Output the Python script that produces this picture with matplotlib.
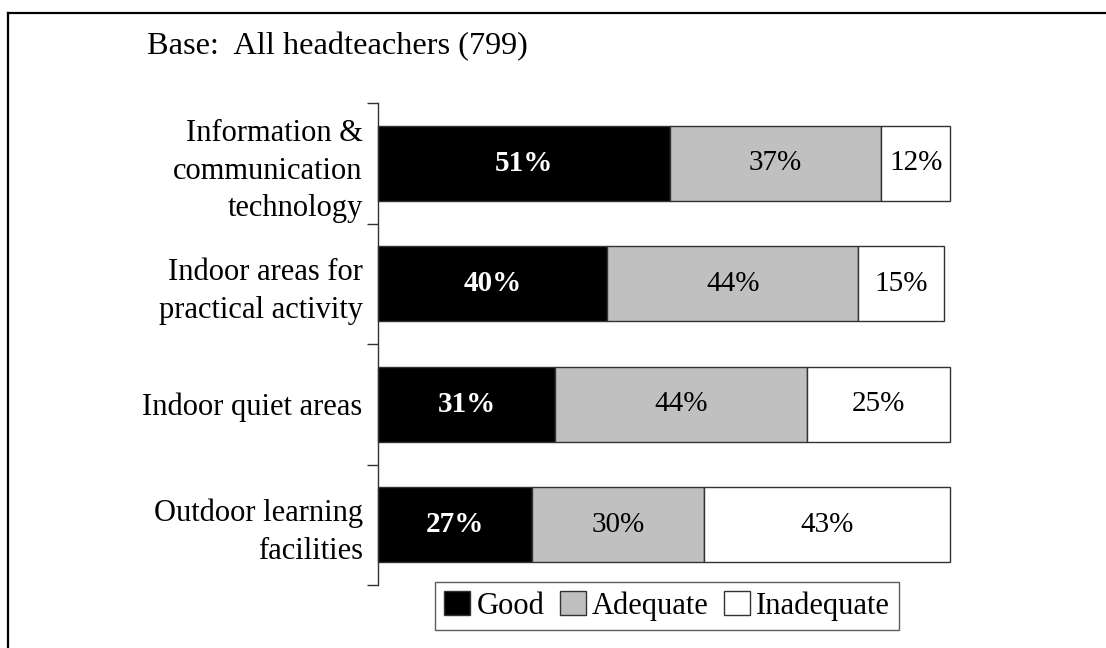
import matplotlib
matplotlib.use("Agg")
import matplotlib.pyplot as plt
from matplotlib.patches import Patch
from matplotlib.lines import Line2D

categories = ["Information &\ncommunication\ntechnology",
              "Indoor areas for\npractical activity",
              "Indoor quiet areas",
              "Outdoor learning\nfacilities"]
good = [51, 40, 31, 27]
adequate = [37, 44, 44, 30]
inadequate = [12, 15, 25, 43]
series_names = ["Good", "Adequate", "Inadequate"]
title_text = "Base:  All headteachers (799)"

plt.rcParams['font.family'] = ['Liberation Serif', 'DejaVu Serif']

fig = plt.figure(figsize=(11.06, 6.48), dpi=100)
ax = fig.add_axes([378/1106, 1-585/648, (950-378)/1106, (585-103)/648])

colors = ["#000000", "#c0c0c0", "#ffffff"]
ypos = list(range(len(categories)))
h = 0.625
left = [0]*len(categories)
for vals, col, name in zip([good, adequate, inadequate], colors, series_names):
    bars = ax.barh(ypos, vals, left=left, height=h, color=col, edgecolor="#333333", linewidth=1.0)
    for b in bars:
        b.set_clip_on(False)
    for y, v, l in zip(ypos, vals, left):
        if name == "Good":
            ax.text(l + v/2, y, f"{v}%", ha="center", va="center", color="white",
                    fontsize=21, fontweight="bold")
        else:
            ax.text(l + v/2, y, f"{v}%", ha="center", va="center", color="black",
                    fontsize=21)
    left = [a + b for a, b in zip(left, vals)]

ax.set_xlim(0, 100)
ax.set_ylim(len(categories)-0.5, -0.5)
ax.set_xticks([])
for s in ["top", "right", "bottom"]:
    ax.spines[s].set_visible(False)
ax.spines["left"].set_linewidth(1.0)
ax.spines["left"].set_color("#333333")
ax.set_yticks([i - 0.5 for i in range(len(categories)+1)])
ax.set_yticklabels([])
ax.tick_params(axis="y", which="major", length=8, width=1.0, color="#333333", direction="out")
ax.set_yticks(ypos, minor=True)
ax.set_yticklabels(categories, minor=True, fontsize=22, ha="right", multialignment="right",
                   linespacing=1.4)
ax.tick_params(axis="y", which="minor", length=0, pad=11)

fig.text(147/1106, 1-47/648, title_text, fontsize=23.3, ha="left", va="center")

handles = [Patch(facecolor=c, edgecolor="#333333", linewidth=1.0) for c in colors]
leg = fig.legend(handles, series_names, loc="center", bbox_to_anchor=(667/1106, 1-606/648),
                 ncol=3, fontsize=22, frameon=True, fancybox=False, edgecolor="#333333",
                 handlelength=0.85, handleheight=0.85, handletextpad=0.2, columnspacing=0.5,
                 borderpad=0.3, borderaxespad=0)
leg.get_frame().set_linewidth(1.0)

fig.add_artist(Line2D([8/1106, 8/1106], [0, 1-13/648], color="black", linewidth=1.6,
                      transform=fig.transFigure))
fig.add_artist(Line2D([8/1106, 1], [1-13/648, 1-13/648], color="black", linewidth=1.6,
                      transform=fig.transFigure))

fig.savefig("out.png", dpi=100)
